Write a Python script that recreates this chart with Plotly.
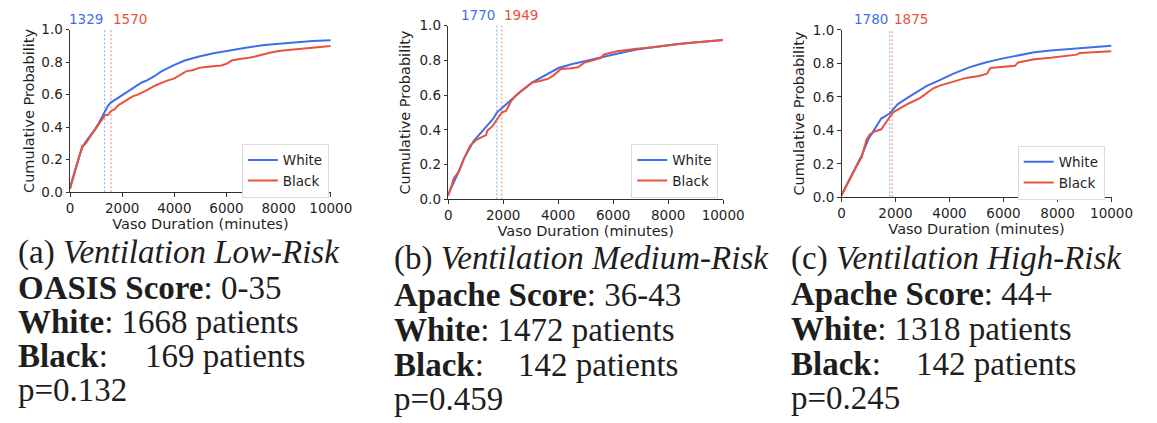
import plotly.graph_objects as go

# ---------------- data ----------------
x_ticks = [0, 2000, 4000, 6000, 8000, 10000]
x_tick_text = ["0", "2000", "4000", "6000", "8000", "10000"]
y_ticks = [0.0, 0.2, 0.4, 0.6, 0.8, 1.0]

# Ventilation low-risk (OASIS 0-35)
low_white_x = [0, 100, 220, 350, 470, 600, 720, 850, 970, 1100, 1220, 1329, 1450, 1550, 1800, 2000, 2220, 2500,
               2750, 2970, 3250, 3470, 3700, 3960, 4400, 4950, 5500, 6200, 6800, 7450, 8100, 8690, 9300, 10000]
low_white_y = [0.03, 0.09, 0.15, 0.22, 0.275, 0.31, 0.335, 0.365, 0.39, 0.425, 0.46, 0.50, 0.53, 0.55, 0.575,
               0.595, 0.62, 0.65, 0.675, 0.69, 0.715, 0.74, 0.76, 0.78, 0.81, 0.835, 0.855, 0.875, 0.89, 0.905,
               0.915, 0.925, 0.93, 0.935]
low_black_x = [0, 100, 220, 350, 470, 520, 600, 720, 850, 970, 1100, 1220, 1300, 1350, 1450, 1500, 1570, 1700,
               1850, 2000, 2220, 2400, 2600, 2800, 2970, 3250, 3470, 3700, 4000, 4250, 4470, 4700, 4950, 5200,
               5500, 5800, 6000, 6200, 6500, 6800, 7100, 7450, 7700, 8070, 8400, 8690, 8800, 9200, 9600, 10000]
low_black_y = [0.02, 0.08, 0.145, 0.22, 0.285, 0.29, 0.30, 0.33, 0.36, 0.385, 0.415, 0.44, 0.465, 0.475, 0.475,
               0.485, 0.50, 0.51, 0.535, 0.55, 0.575, 0.59, 0.60, 0.615, 0.63, 0.655, 0.67, 0.685, 0.70, 0.725,
               0.745, 0.75, 0.765, 0.77, 0.775, 0.78, 0.79, 0.81, 0.82, 0.825, 0.835, 0.85, 0.86, 0.87, 0.875,
               0.88, 0.885, 0.89, 0.895, 0.90]

# Ventilation medium-risk (Apache 36-43)
med_white_x = [0, 330, 570, 925, 1280, 1640, 1770, 2110, 2350, 2700, 3060, 3535, 4010, 4480, 5080, 5670, 6260,
               6860, 7450, 8040, 8640, 10000]
med_white_y = [0.03, 0.142, 0.234, 0.336, 0.40, 0.465, 0.50, 0.548, 0.585, 0.63, 0.673, 0.714, 0.756, 0.778,
               0.80, 0.825, 0.843, 0.862, 0.876, 0.889, 0.898, 0.917]
med_black_x = [0, 210, 390, 570, 800, 1040, 1280, 1380, 1420, 1600, 1755, 1949, 2110, 2290, 2470, 3060, 3300,
               3650, 3830, 4010, 4100, 4480, 4720, 4960, 5200, 5550, 5670, 6140, 6380, 6860, 7450, 8040, 8640,
               10000]
med_black_y = [0.02, 0.124, 0.16, 0.234, 0.31, 0.345, 0.363, 0.37, 0.395, 0.42, 0.456, 0.50, 0.51, 0.566, 0.60,
               0.673, 0.68, 0.695, 0.714, 0.735, 0.75, 0.755, 0.76, 0.788, 0.797, 0.815, 0.834, 0.852, 0.858,
               0.867, 0.876, 0.889, 0.898, 0.917]

# Ventilation high-risk (Apache 44+)
high_white_x = [0, 265, 507, 748, 990, 1230, 1470, 1780, 2075, 2437, 2800, 3160, 3640, 4125, 4730, 5330, 5935,
                6540, 7140, 7740, 8350, 8950, 10000]
high_white_y = [0.013, 0.096, 0.17, 0.25, 0.345, 0.41, 0.47, 0.50, 0.555, 0.594, 0.628, 0.665, 0.70, 0.737,
                0.776, 0.805, 0.828, 0.847, 0.866, 0.877, 0.885, 0.895, 0.905]
high_black_x = [0, 265, 507, 748, 930, 1050, 1230, 1470, 1650, 1875, 1955, 2195, 2437, 2680, 2920, 3160, 3400,
                3640, 4125, 4610, 5090, 5390, 5510, 5935, 6420, 6540, 7140, 7740, 8350, 8710, 8830, 10000]
high_black_y = [0.01, 0.096, 0.17, 0.24, 0.345, 0.375, 0.393, 0.406, 0.45, 0.50, 0.512, 0.536, 0.556, 0.575,
                0.594, 0.623, 0.651, 0.667, 0.69, 0.713, 0.724, 0.738, 0.772, 0.78, 0.785, 0.805, 0.824, 0.833,
                0.847, 0.852, 0.862, 0.872]

medians_white = [1329, 1770, 1780]
medians_black = [1570, 1949, 1875]

captions = [
    ["(a) <i>Ventilation Low-Risk</i>", "<b>OASIS Score</b>: 0-35", "<b>White</b>: 1668 patients",
     "<b>Black</b>:", "169 patients", "p=0.132"],
    ["(b) <i>Ventilation Medium-Risk</i>", "<b>Apache Score</b>: 36-43", "<b>White</b>: 1472 patients",
     "<b>Black</b>:", "142 patients", "p=0.459"],
    ["(c) <i>Ventilation High-Risk</i>", "<b>Apache Score</b>: 44+", "<b>White</b>: 1318 patients",
     "<b>Black</b>:", "142 patients", "p=0.245"],
]

# ---------------- layout helpers ----------------
W, H = 1157, 423
BLUE = "#3f6fe8"
RED = "#e8513a"
BLUE_DOT = "#8fb3e0"
RED_DOT = "#ee9a88"
SANS = "DejaVu Sans"
SERIF = "Liberation Serif"
INK = "#1f1f1f"
CAP_SIZE = 33


def px(x):
    return x / W


def py(y):
    return 1 - y / H


# pixel boxes of the three plot areas: (left, right, top, bottom)
boxes = [(67.5, 334, 22.5, 191.5), (454, 735, 18.3, 199), (856, 1132, 22.7, 196.7)]
legend_boxes = [(332, 141), (730, 141), (1125, 143)]
title_standoff = [3, 5, 4]
caption_left = [12, 397, 802]
black_count_left = [142, 523, 930]
caption_base = [[265, 301.7, 337.5, 373, 408.5],
                [272, 309, 345.5, 382, 417],
                [272, 308.5, 345, 381, 416.5]]
# distance from a caption line's baseline to the centre of its text box
base_to_mid = 0.3375 * CAP_SIZE

series = [
    (low_white_x, low_white_y, low_black_x, low_black_y),
    (med_white_x, med_white_y, med_black_x, med_black_y),
    (high_white_x, high_white_y, high_black_x, high_black_y),
]

fig = go.Figure()
annotations = []
layout_axes = {}

for i, (wx, wy, bx, by) in enumerate(series):
    n = "" if i == 0 else str(i + 1)
    xa, ya = "x" + n, "y" + n
    leg = "legend" + n
    left, right, top, bottom = boxes[i]

    # median markers
    for m, c in ((medians_white[i], BLUE_DOT), (medians_black[i], RED_DOT)):
        fig.add_trace(go.Scatter(x=[m, m], y=[0, 1], mode="lines", xaxis=xa, yaxis=ya,
                                 line=dict(color=c, width=1.2, dash="2px,2px"), showlegend=False,
                                 hoverinfo="skip"))

    fig.add_trace(go.Scatter(x=wx, y=wy, mode="lines", name="White", xaxis=xa, yaxis=ya, legend=leg,
                             line=dict(color=BLUE, width=2)))
    fig.add_trace(go.Scatter(x=bx, y=by, mode="lines", name="Black", xaxis=xa, yaxis=ya, legend=leg,
                             line=dict(color=RED, width=2)))

    axis_common = dict(showline=True, linecolor="#333333", linewidth=1, ticks="outside", ticklen=3.5,
                       tickwidth=1, tickcolor="#333333", showgrid=False, zeroline=False,
                       tickfont=dict(family=SANS, size=13.5, color=INK))
    layout_axes["xaxis" + n] = dict(axis_common, domain=[px(left), px(right)], range=[0, 10000],
                                    tickvals=x_ticks, ticktext=x_tick_text, anchor=ya,
                                    title=dict(text="Vaso Duration (minutes)", standoff=2,
                                               font=dict(family=SANS, size=14.5, color=INK)))
    layout_axes["yaxis" + n] = dict(axis_common, domain=[py(bottom), py(top)], range=[0, 1],
                                    tickvals=y_ticks, tickformat=".1f", anchor=xa,
                                    title=dict(text="Cumulative Probability", standoff=title_standoff[i],
                                               font=dict(family=SANS, size=14.5, color=INK)))
    lx, ly = legend_boxes[i]
    layout_axes[leg] = dict(x=px(lx), y=py(ly), xanchor="right", yanchor="top",
                            bgcolor="white", bordercolor="#dcdcdc", borderwidth=1,
                            font=dict(family=SANS, size=13.5, color=INK), itemwidth=30,
                            tracegroupgap=0)

    # median labels above the plot area
    annotations.append(dict(x=medians_white[i], y=1, xref=xa, yref=ya, text=str(medians_white[i]),
                            xanchor="right", yanchor="bottom", showarrow=False, yshift=1,
                            font=dict(family=SANS, size=13.5, color=BLUE)))
    annotations.append(dict(x=medians_black[i], y=1, xref=xa, yref=ya, text=str(medians_black[i]),
                            xanchor="left", yanchor="bottom", showarrow=False, yshift=1,
                            font=dict(family=SANS, size=13.5, color=RED)))

    # caption block under each panel
    cap = captions[i]
    base = caption_base[i]
    lines = [(cap[0], caption_left[i], base[0]), (cap[1], caption_left[i], base[1]),
             (cap[2], caption_left[i], base[2]), (cap[3], caption_left[i], base[3]),
             (cap[4], black_count_left[i], base[3]), (cap[5], caption_left[i], base[4])]
    for text, x0, b in lines:
        annotations.append(dict(x=px(x0), y=py(b - base_to_mid), xref="paper", yref="paper", text=text,
                                xanchor="left", yanchor="middle", showarrow=False,
                                font=dict(family=SERIF, size=CAP_SIZE, color="#1e1e1e")))

fig.update_layout(width=W, height=H, margin=dict(l=0, r=0, t=0, b=0), paper_bgcolor="white",
                  plot_bgcolor="white", annotations=annotations, **layout_axes)

fig.write_html("out.html")
